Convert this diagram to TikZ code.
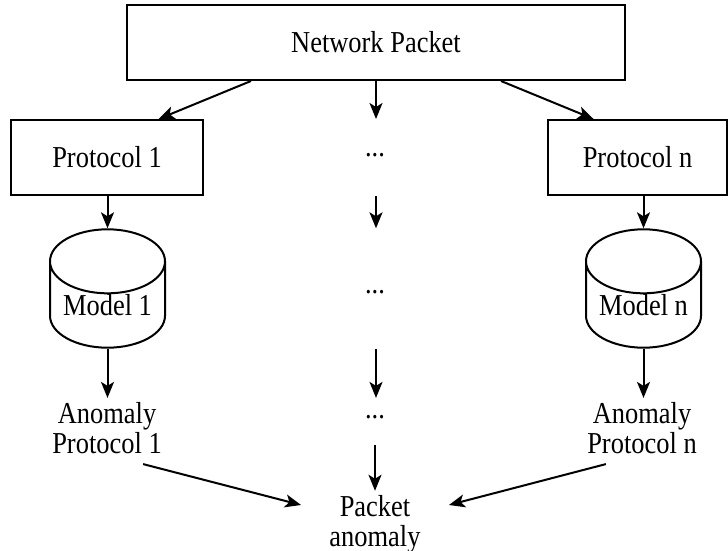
\documentclass[tikz,border=0pt]{standalone}
\usepackage{fontspec}
\setmainfont[FakeStretch=0.87]{Liberation Serif}
\usetikzlibrary{arrows.meta,shapes.geometric,calc}
\tikzset{
  box/.style={draw, line width=1pt, minimum height=37.5pt, inner sep=0pt},
  db/.style={cylinder, shape border rotate=90, draw, line width=1pt, aspect=0.72,
             minimum width=57.5pt, minimum height=57.5pt, inner sep=0pt},
  txt/.style={align=center, inner sep=2pt},
  arr/.style={-{Stealth[length=8pt,width=6.5pt,inset=2pt]}, line width=1pt}
}
\begin{document}
\begin{tikzpicture}[x=0.5pt, y=-0.5pt, font=\fontsize{15.2}{15}\selectfont]
 \useasboundingbox (0,0) rectangle (728,551);
 \node[box, minimum width=249pt] (net) at (376,42.5) {Network Packet};
 \node[box, minimum width=96pt] (p1) at (107,157.5) {Protocol 1};
 \node[box, minimum width=89.5pt] (pn) at (637.5,157.5) {Protocol n};
 \node (d1) at (375,155) {...};
 \node[db] (m1) at (107.5,305) {Model 1};
 \node[db] (mn) at (643.5,305) {Model n};
 \node (d2) at (375,292) {...};
 \node[txt] (a1) at (107,428) {Anomaly\\Protocol 1};
 \node[txt] (an) at (642,428) {Anomaly\\Protocol n};
 \node[minimum height=28pt] (d3) at (375,417) {...};
 \node[txt] (pa) at (375,524) {Packet\\anomaly};
 % from the packet to the protocols
 \draw[arr] ($(net.south west)!0.25!(net.south east)$) -- ($(p1.north west)!0.766!(p1.north east)$);
 \draw[arr] (net.south) -- (net.south |- p1.north);
 \draw[arr] ($(net.south west)!0.75!(net.south east)$) -- ($(pn.north west)!0.257!(pn.north east)$);
 % protocols to models
 \draw[arr] (p1.south -| m1.north) -- (m1.north);
 \draw[arr] (net.south |- p1.south) -- (net.south |- m1.north);
 \draw[arr] (pn.south -| mn.north) -- (mn.north);
 % models to anomalies
 \draw[arr] (m1.south) -- (m1.south |- a1.north);
 \draw[arr] (net.south |- m1.south) -- (net.south |- a1.north);
 \draw[arr] (mn.south) -- (mn.south |- an.north);
 % anomalies to the packet anomaly
 \draw[arr] ([xshift=-11.5pt,yshift=-3pt]a1.south east) -- ([xshift=-12pt,yshift=9.5pt]pa.west);
 \draw[arr] (d3) -- (pa);
 \draw[arr] ([xshift=11.5pt,yshift=-3pt]an.south west) -- ([xshift=12pt,yshift=9.5pt]pa.east);
\end{tikzpicture}
\end{document}
